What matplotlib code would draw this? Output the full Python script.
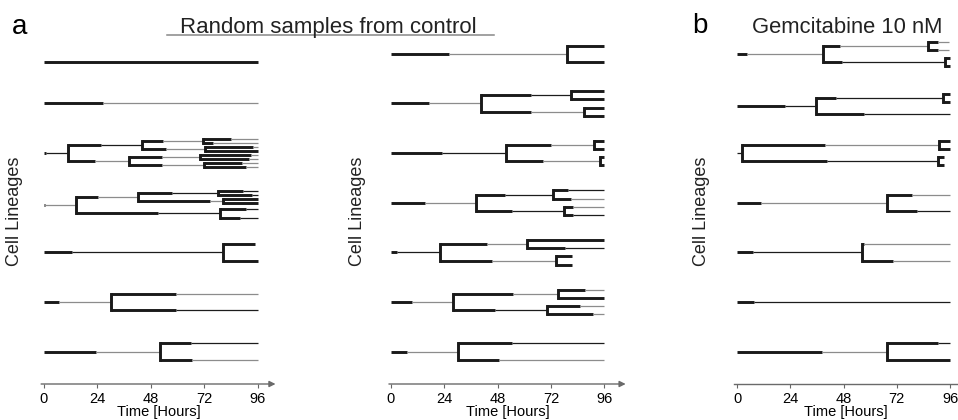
import matplotlib.pyplot as plt
from matplotlib.lines import Line2D

plt.rcParams['font.family'] = ['Liberation Sans', 'DejaVu Sans']

# one lineage = list of cells (path, end of thick part [h], end of cell [h], tone of thin part)
# path '' = founder cell, then '0' = upper daughter, '1' = lower daughter, '01' ... and so on
control_1 = [
    [('', 96, 96, 'k')],
    [('', 26.5, 96, 'g')],
    [('', 0.8, 11, 'k'), ('0', 25.6, 44, 'k'), ('1', 23, 38, 'g'),
     ('00', 53.5, 71.5, 'g'), ('01', 55, 72.5, 'g'), ('10', 53, 70, 'g'), ('11', 53, 72, 'g'),
     ('000', 84, 96, 'g'), ('001', 76, 96, 'g'), ('010', 94, 96, 'g'), ('011', 96, 96, 'k'),
     ('100', 93, 96, 'g'), ('101', 92, 96, 'g'), ('110', 89, 96, 'g'), ('111', 91, 96, 'g')],
    [('', 0.5, 14.5, 'g'), ('0', 24.4, 42.4, 'g'), ('1', 51.4, 79, 'k'),
     ('00', 57.4, 78.4, 'k'), ('01', 74.6, 80.6, 'g'),
     ('000', 89.5, 96, 'k'), ('001', 93.6, 96, 'k'), ('010', 96, 96, 'k'), ('011', 96, 96, 'k'),
     ('10', 91, 96, 'k'), ('11', 88, 96, 'k')],
    [('', 12.7, 80.3, 'k'), ('0', 95, 95, 'k'), ('1', 96, 96, 'k')],
    [('', 6.6, 30.1, 'g'), ('0', 59.4, 96, 'g'), ('1', 59.4, 96, 'k')],
    [('', 23.2, 52.2, 'g'), ('0', 66, 96, 'k'), ('1', 66.4, 96, 'g')],
]

control_2 = [
    [('', 26.3, 79.1, 'g'), ('0', 96, 96, 'k'), ('1', 96, 96, 'k')],
    [('', 17.4, 40.6, 'g'), ('0', 62.9, 80.9, 'k'), ('1', 62.9, 86.9, 'g'),
     ('00', 96, 96, 'k'), ('01', 96, 96, 'k'), ('10', 96, 96, 'k'), ('11', 96, 96, 'k')],
    [('', 22.9, 51.8, 'k'), ('0', 71.9, 91.5, 'g'), ('1', 68.6, 94.1, 'g'),
     ('00', 96, 96, 'k'), ('01', 96, 96, 'k'), ('10', 96, 96, 'k'), ('11', 96, 96, 'k')],
    [('', 15.4, 38.3, 'g'), ('0', 51.4, 72.8, 'k'), ('1', 54.4, 77.9, 'k'),
     ('00', 79.5, 96, 'k'), ('01', 81, 96, 'g'), ('10', 82, 96, 'g'), ('11', 82, 96, 'k')],
    [('', 2.7, 22.2, 'k'), ('0', 43.4, 61.1, 'g'), ('1', 45.4, 74.2, 'g'),
     ('00', 96, 96, 'k'), ('01', 78.3, 96, 'k'), ('10', 81.3, 81.3, 'k'), ('11', 81.3, 81.3, 'k')],
    [('', 9.4, 28.1, 'g'), ('0', 54.8, 75.3, 'g'), ('1', 46.9, 70.1, 'k'),
     ('00', 87.3, 96, 'g'), ('01', 96, 96, 'k'), ('10', 85.1, 96, 'g'), ('11', 91, 96, 'g')],
    [('', 7.2, 30.4, 'g'), ('0', 54.4, 96, 'k'), ('1', 48.7, 96, 'g')],
]

gemcitabine = [
    [('', 4.5, 38.5, 'g'), ('0', 46.3, 86.2, 'g'), ('1', 47.1, 93.7, 'k'),
     ('00', 90.5, 95.5, 'g'), ('01', 90.5, 95.5, 'g'), ('10', 96, 96, 'k'), ('11', 96, 96, 'k')],
    [('', 21.5, 35.5, 'k'), ('0', 44.5, 92.7, 'k'), ('1', 57.2, 96, 'k'),
     ('00', 96, 96, 'k'), ('01', 96, 96, 'k')],
    [('', 0, 2, 'k'), ('0', 39.6, 91.2, 'g'), ('1', 40.3, 90.7, 'k'),
     ('00', 96, 96, 'k'), ('01', 96, 96, 'k'), ('10', 93.3, 93.3, 'k'), ('11', 93.3, 93.3, 'k')],
    [('', 10.7, 67.7, 'g'), ('0', 78.7, 96, 'g'), ('1', 81.2, 96, 'k')],
    [('', 7.2, 56.1, 'k'), ('0', 57, 96, 'g'), ('1', 70.1, 96, 'g')],
    [('', 7.5, 96, 'k')],
    [('', 38.4, 67.4, 'g'), ('0', 90.4, 96, 'k'), ('1', 96, 96, 'k')],
]

hour_ticks = [0, 24, 48, 72, 96]

# ---- layout (pixels of a 958x420 figure) ----
W, H = 958, 420
TONE = {'k': '#1c1c1c', 'g': '#8c8c8c'}
SPREAD = 0.165
YLIM = (6.653, -0.32)
THICK = 2.1

fig = plt.figure(figsize=(W / 100, H / 100), dpi=100)


def add_axes(x0_px, px_per_h, xlim):
    left = x0_px + xlim[0] * px_per_h
    width = (xlim[1] - xlim[0]) * px_per_h
    return fig.add_axes([left / W, (H - 384) / H, width / W, 346 / H])


def cell_y(row, path):
    y = row
    for g, c in enumerate(path):
        y += (-1 if c == '0' else 1) * SPREAD / 2 ** g
    return y


def draw_panel(ax, lineages, xlim, arrow=True, row_shift=None):
    for row, cells in enumerate(lineages):
        base = row + (row_shift[row] if row_shift else 0)
        ends = {p: e for p, t, e, c in cells}
        for path, thick, end, tone in cells:
            start = ends[path[:-1]] if path else 0
            y = cell_y(base, path)
            if thick > start:
                ax.plot([start, min(thick, end)], [y, y], color='#1a1a1a', lw=THICK,
                        solid_capstyle='butt')
            if end > thick:
                ax.plot([max(thick, start), end], [y, y], color=TONE[tone], lw=0.9,
                        solid_capstyle='butt')
            if path + '0' in ends:
                ax.plot([end, end], [cell_y(base, path + '0'), cell_y(base, path + '1')],
                        color='#1a1a1a', lw=THICK, solid_capstyle='projecting')
    ax.set_xlim(*xlim)
    ax.set_ylim(*YLIM)
    for s in ax.spines.values():
        s.set_visible(False)
    ax.set_yticks([])
    ax.set_xticks(hour_ticks)
    ax.tick_params(axis='x', length=3, width=0.8, color='#666666', labelsize=10.5, pad=3)
    ax.set_xlabel('Time [Hours]', fontsize=10.5, labelpad=-1)
    if arrow:
        ax.annotate('', xy=(xlim[1] - 0.4, YLIM[0]), xytext=(xlim[0] + 0.2, YLIM[0]),
                    arrowprops=dict(arrowstyle='-|>', color='#6a6a6a', lw=1,
                                    mutation_scale=9, shrinkA=0, shrinkB=0),
                    annotation_clip=False)
    else:
        ax.plot([xlim[0], xlim[1] + 2], [YLIM[0]] * 2, color='#6a6a6a', lw=1, clip_on=False)


ax1 = add_axes(44, 2.224, (-1.5, 104.5))
draw_panel(ax1, control_1, (-1.5, 104.5), row_shift=[0.16, 0, 0, 0.05, 0, 0, 0])
ax2 = add_axes(390.7, 2.225, (-1, 106))
draw_panel(ax2, control_2, (-1, 106))
ax3 = add_axes(737.3, 2.216, (-1.5, 99.5))
draw_panel(ax3, gemcitabine, (-1.5, 99.5), arrow=False, row_shift=[0, 0.05, 0, 0, 0, 0, 0])

for xc in (15, 358, 701):
    fig.text(xc / W, 1 - 211 / H, 'Cell Lineages', rotation=90, fontsize=13,
             ha='center', va='center', color='#222222')

fig.text(12 / W, 1 - 34 / H, 'a', fontsize=20, ha='left', va='baseline')
fig.text(692 / W, 1 - 33 / H, 'b', fontsize=20, ha='left', va='baseline')
fig.text(328 / W, 1 - 33 / H, 'Random samples from control', fontsize=16,
         ha='center', va='baseline', color='#222222')
fig.text(752 / W, 1 - 33 / H, 'Gemcitabine 10 nM', fontsize=15.8,
         ha='left', va='baseline', color='#222222')
fig.add_artist(Line2D([167 / W, 494 / W], [1 - 35 / H] * 2, color='#888888', lw=1.1))

fig.savefig('out.png', dpi=100)
